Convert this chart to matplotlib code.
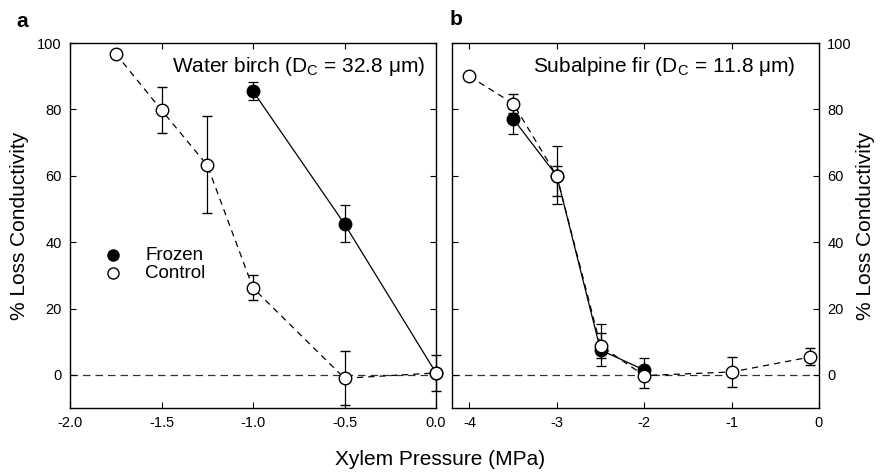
import matplotlib
matplotlib.use("Agg")
import matplotlib.pyplot as plt

plt.rcParams['font.family'] = ['Liberation Sans', 'DejaVu Sans']
plt.rcParams['mathtext.fontset'] = 'custom'
plt.rcParams['mathtext.rm'] = 'Liberation Sans'

# Panel a: Water birch
a_ctrl_x = [-1.75, -1.5, -1.25, -1.0, -0.5, 0.0]
a_ctrl_y = [96.8, 79.8, 63.2, 26.2, -1.0, 0.6]
a_ctrl_lo = [96.8, 72.8, 48.8, 22.5, -9.2, -4.8]
a_ctrl_hi = [96.8, 86.8, 78.0, 30.0, 7.2, 6.0]
a_froz_x = [-1.0, -0.5, 0.0]
a_froz_y = [85.5, 45.5, 0.6]
a_froz_lo = [82.8, 40.0, 0.6]
a_froz_hi = [88.2, 51.2, 0.6]

# Panel b: Subalpine fir
b_ctrl_x = [-4.0, -3.5, -3.0, -2.5, -2.0, -1.0, -0.1]
b_ctrl_y = [90.0, 81.8, 60.0, 8.8, -0.2, 0.9, 5.4]
b_ctrl_lo = [90.0, 79.0, 54.0, 5.0, -3.8, -3.6, 3.0]
b_ctrl_hi = [90.0, 84.8, 63.0, 12.5, 2.5, 5.4, 8.0]
b_froz_x = [-3.5, -3.0, -2.5, -2.0]
b_froz_y = [77.2, 60.0, 7.5, 1.5]
b_froz_lo = [72.5, 51.5, 2.8, -0.5]
b_froz_hi = [80.0, 69.0, 15.3, 5.2]

a_xticks = [-2.0, -1.5, -1.0, -0.5, 0.0]
a_xticklabels = ['-2.0', '-1.5', '-1.0', '-0.5', '0.0']
b_xticks = [-4, -3, -2, -1, 0]
b_xticklabels = ['-4', '-3', '-2', '-1', '0']
yticks = [0, 20, 40, 60, 80, 100]

fig = plt.figure(figsize=(8.81, 4.74), dpi=100)
axa = fig.add_axes([0.0795, 0.139, 0.4154, 0.770])
axb = fig.add_axes([0.513, 0.139, 0.4166, 0.770])

ms = 9

def draw(ax, cx, cy, clo, chi, fx, fy, flo, fhi):
    ax.axhline(0, color='#333333', lw=0.9, ls=(0, (6, 4)), zorder=1)
    c1 = ax.errorbar(fx, fy, yerr=[[y - l for y, l in zip(fy, flo)], [h - y for y, h in zip(fy, fhi)]],
                     fmt='-', color='black', lw=0.9, elinewidth=0.9, capsize=3.5, capthick=0.9,
                     marker='o', ms=ms, mfc='black', mec='black', zorder=3)
    c2 = ax.errorbar(cx, cy, yerr=[[y - l for y, l in zip(cy, clo)], [h - y for y, h in zip(cy, chi)]],
                     fmt='-', color='black', lw=0.9, ls=(0, (5, 4)), elinewidth=0.9, capsize=3.5, capthick=0.9,
                     marker='o', ms=ms, mfc='white', mec='black', mew=1.0, zorder=4)
    for c in (c1, c2):
        for ch in c.get_children():
            ch.set_clip_on(False)
    ax.set_ylim(-10, 100)
    ax.set_yticks(yticks)
    ax.tick_params(direction='in', top=True, right=True, left=True, bottom=True,
                   labelsize=10.5, length=4, width=0.8, pad=6)
    for s in ax.spines.values():
        s.set_linewidth(1.0)

draw(axa, a_ctrl_x, a_ctrl_y, a_ctrl_lo, a_ctrl_hi, a_froz_x, a_froz_y, a_froz_lo, a_froz_hi)
draw(axb, b_ctrl_x, b_ctrl_y, b_ctrl_lo, b_ctrl_hi, b_froz_x, b_froz_y, b_froz_lo, b_froz_hi)

axa.set_xlim(-2.0, 0.0)
axa.set_xticks(a_xticks)
axa.set_xticklabels(a_xticklabels)
axb.set_xlim(-4.2, 0.0)
axb.set_xticks(b_xticks)
axb.set_xticklabels(b_xticklabels)
axb.tick_params(labelleft=False, labelright=True)
axb.yaxis.set_label_position('right')

axa.set_ylabel('% Loss Conductivity', fontsize=15, labelpad=6)
axb.set_ylabel('% Loss Conductivity', fontsize=15, labelpad=3, rotation=90)

axa.text(0.97, 0.92, r'Water birch (D$_\mathregular{C}$ = 32.8 μm)', transform=axa.transAxes,
         ha='right', va='baseline', fontsize=15)
axb.text(0.935, 0.92, r'Subalpine fir (D$_\mathregular{C}$ = 11.8 μm)', transform=axb.transAxes,
         ha='right', va='baseline', fontsize=15)

# legend
axa.plot([-1.765], [36.0], 'o', ms=ms - 1, mfc='black', mec='black')
axa.plot([-1.765], [30.6], 'o', ms=ms - 1, mfc='white', mec='black')
axa.text(-1.59, 36.0, 'Frozen', fontsize=13.5, va='center', ha='left')
axa.text(-1.59, 30.6, 'Control', fontsize=13.5, va='center', ha='left')

fig.text(0.025, 0.955, 'a', fontsize=15, fontweight='bold', va='center', ha='center')
fig.text(0.518, 0.958, 'b', fontsize=15, fontweight='bold', va='center', ha='center')
fig.text(0.5, 0.030, 'Xylem Pressure (MPa)', fontsize=15, ha='center', va='center')

fig.savefig('out.png', dpi=100)
